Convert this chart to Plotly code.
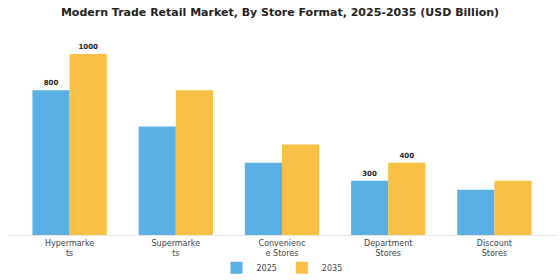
import plotly.graph_objects as go

categories = ["Hypermarkets", "Supermarkets", "Convenience Stores", "Department Stores", "Discount Stores"]
tick_labels = ["Hypermarke<br>ts", "Supermarke<br>ts", "Convenienc<br>e Stores", "Department<br>Stores", "Discount<br>Stores"]
values_2025 = [800, 600, 400, 300, 250]
values_2035 = [1000, 800, 500, 400, 300]
labels_2025 = ["<b>800</b>", "", "", "<b>300</b>", ""]
labels_2035 = ["<b>1000</b>", "", "", "<b>400</b>", ""]

fig = go.Figure()
fig.add_trace(go.Bar(name="2025", x=categories, y=values_2025, marker_color="#5AB0E5",
                     text=labels_2025, textposition="outside", cliponaxis=False,
                     textfont=dict(family="DejaVu Sans", size=7, color="#222"), marker_line_width=0))
fig.add_trace(go.Bar(name="2035", x=categories, y=values_2035, marker_color="#F8C146",
                     text=labels_2035, textposition="outside", cliponaxis=False,
                     textfont=dict(family="DejaVu Sans", size=7, color="#222"), marker_line_width=0))

fig.update_layout(
    width=560, height=280,
    margin=dict(l=8, r=4, t=36, b=45, autoexpand=False),
    paper_bgcolor="white", plot_bgcolor="white",
    barmode="group", bargap=0.3, bargroupgap=0,
    title=dict(text="<b>Modern Trade Retail Market, By Store Format, 2025-2035 (USD Billion)</b>",
               x=0.5, xanchor="center", y=0.955, yanchor="middle",
               font=dict(family="DejaVu Sans", size=11, color="#222")),
    font=dict(family="DejaVu Sans", size=8, color="#444"),
    showlegend=True,
    legend=dict(orientation="h", x=0.5, xanchor="center", y=-0.165, yanchor="middle",
                bgcolor="rgba(0,0,0,0)", font=dict(size=8, color="#444"), traceorder="normal"),
)
fig.update_xaxes(tickmode="array", tickvals=categories, ticktext=tick_labels, automargin=False,
                 range=[-0.58, 4.58], showline=True, linecolor="#e6e6e6", linewidth=1,
                 ticks="", tickfont=dict(size=8, color="#444"), showgrid=False)
fig.update_yaxes(range=[0, 1100], visible=False, showgrid=False)

fig.write_html("out.html")
